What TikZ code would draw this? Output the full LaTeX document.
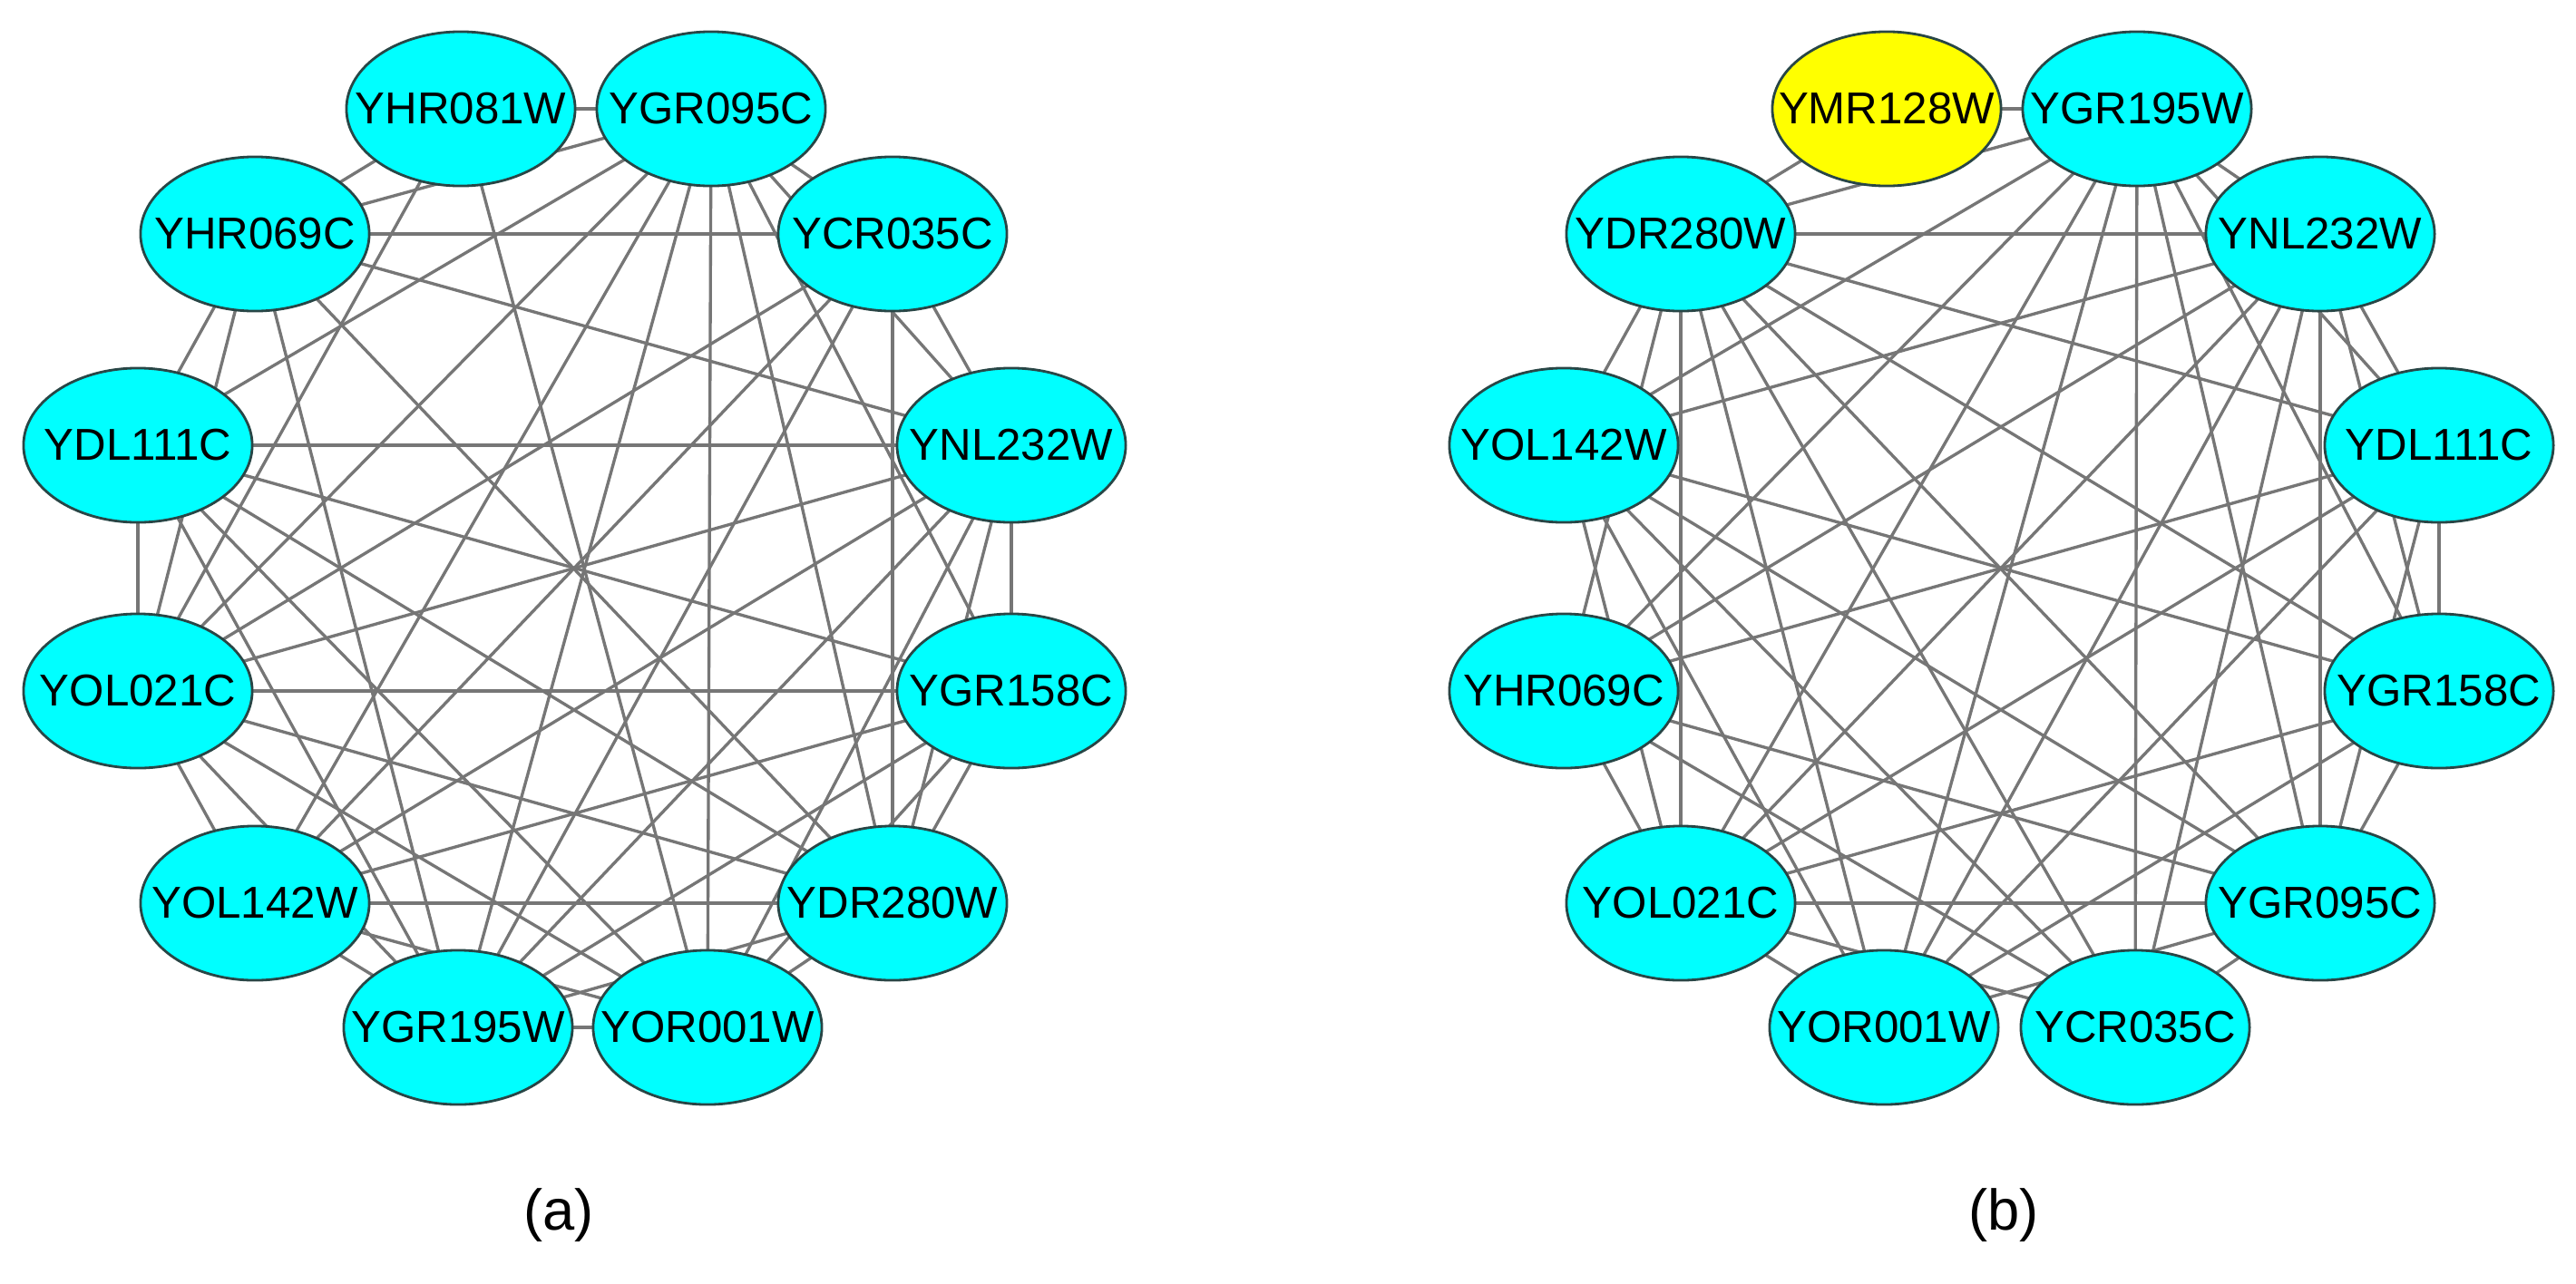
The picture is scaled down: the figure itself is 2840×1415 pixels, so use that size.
\documentclass[tikz,border=0pt]{standalone}
\usepackage{fontspec}
\setmainfont{Liberation Sans}
\usetikzlibrary{shapes.geometric}
\pgfdeclarelayer{bgl}
\pgfdeclarelayer{edgel}
\pgfsetlayers{bgl,edgel,main}
\definecolor{aquafill}{RGB}{0,255,255}
\definecolor{yelfill}{RGB}{255,255,0}
\definecolor{rimcol}{RGB}{40,70,70}
\definecolor{linkcol}{RGB}{118,118,118}
\newcommand\protlbl[1]{\makebox[0pt]{#1}}
\begin{document}
\begin{tikzpicture}[x=0.01cm,y=-0.01cm,
  prot/.style={ellipse, draw=rimcol, line width=0.8pt, fill=aquafill, minimum width=2.52cm, minimum height=1.70cm, inner sep=0pt, font=\fontsize{14}{16}\selectfont},
  protY/.style={prot, fill=yelfill},
  lnk/.style={draw=linkcol, line width=0.95pt},
  capt/.style={font=\fontsize{18}{20}\selectfont}]
\begin{pgfonlayer}{bgl}
\fill[white] (0,0) rectangle (2840,1415);
\end{pgfonlayer}
\useasboundingbox (0,0) rectangle (2840,1415);
% graph (a)
\node[prot] (a1) at (508,120) {\protlbl{YHR081W}};
\node[prot] (a2) at (784,120) {\protlbl{YGR095C}};
\node[prot] (a3) at (984,258) {\protlbl{YCR035C}};
\node[prot] (a4) at (1115,491) {\protlbl{YNL232W}};
\node[prot] (a5) at (1115,762) {\protlbl{YGR158C}};
\node[prot] (a6) at (984,996) {\protlbl{YDR280W}};
\node[prot] (a7) at (780,1133) {\protlbl{YOR001W}};
\node[prot] (a8) at (505,1133) {\protlbl{YGR195W}};
\node[prot] (a9) at (281,996) {\protlbl{YOL142W}};
\node[prot] (a10) at (152,762) {\protlbl{YOL021C}};
\node[prot] (a11) at (152,491) {\protlbl{YDL111C}};
\node[prot] (a12) at (281,258) {\protlbl{YHR069C}};
% graph (b)
\node[protY] (b1) at (2080,120) {\protlbl{YMR128W}};
\node[prot] (b2) at (2356,120) {\protlbl{YGR195W}};
\node[prot] (b3) at (2558,258) {\protlbl{YNL232W}};
\node[prot] (b4) at (2689,491) {\protlbl{YDL111C}};
\node[prot] (b5) at (2689,762) {\protlbl{YGR158C}};
\node[prot] (b6) at (2558,996) {\protlbl{YGR095C}};
\node[prot] (b7) at (2354,1133) {\protlbl{YCR035C}};
\node[prot] (b8) at (2077,1133) {\protlbl{YOR001W}};
\node[prot] (b9) at (1853,996) {\protlbl{YOL021C}};
\node[prot] (b10) at (1724,762) {\protlbl{YHR069C}};
\node[prot] (b11) at (1724,491) {\protlbl{YOL142W}};
\node[prot] (b12) at (1853,258) {\protlbl{YDR280W}};
\node[capt] (capa) at (616,1340) {(a)};
\node[capt] (capb) at (2209,1340) {(b)};
\begin{pgfonlayer}{edgel}
\foreach \u/\v in {1/2,1/7,1/10,1/12,
  2/3,2/4,2/5,2/6,2/7,2/8,2/9,2/10,2/11,2/12,
  3/4,3/6,3/8,3/9,3/10,3/12,
  4/5,4/6,4/7,4/8,4/9,4/10,4/11,4/12,
  5/6,5/7,5/8,5/9,5/10,5/11,
  6/7,6/8,6/9,6/10,6/11,6/12,
  7/8,7/9,7/10,7/11,
  8/9,8/10,8/11,8/12,
  9/10,10/11,10/12,11/12}
  \draw[lnk] (a\u.center) -- (a\v.center);
\foreach \u/\v in {1/2,1/12,
  2/3,2/4,2/5,2/6,2/7,2/8,2/9,2/10,2/11,2/12,
  3/4,3/5,3/6,3/7,3/8,3/9,3/10,3/11,3/12,
  4/5,4/6,4/8,4/9,4/10,4/12,
  5/6,5/8,5/9,5/11,5/12,
  6/7,6/8,6/9,6/10,6/11,6/12,
  7/9,7/10,7/11,7/12,
  8/9,8/11,8/12,
  9/10,9/11,9/12,10/12,11/12}
  \draw[lnk] (b\u.center) -- (b\v.center);
\end{pgfonlayer}
\end{tikzpicture}
\end{document}
